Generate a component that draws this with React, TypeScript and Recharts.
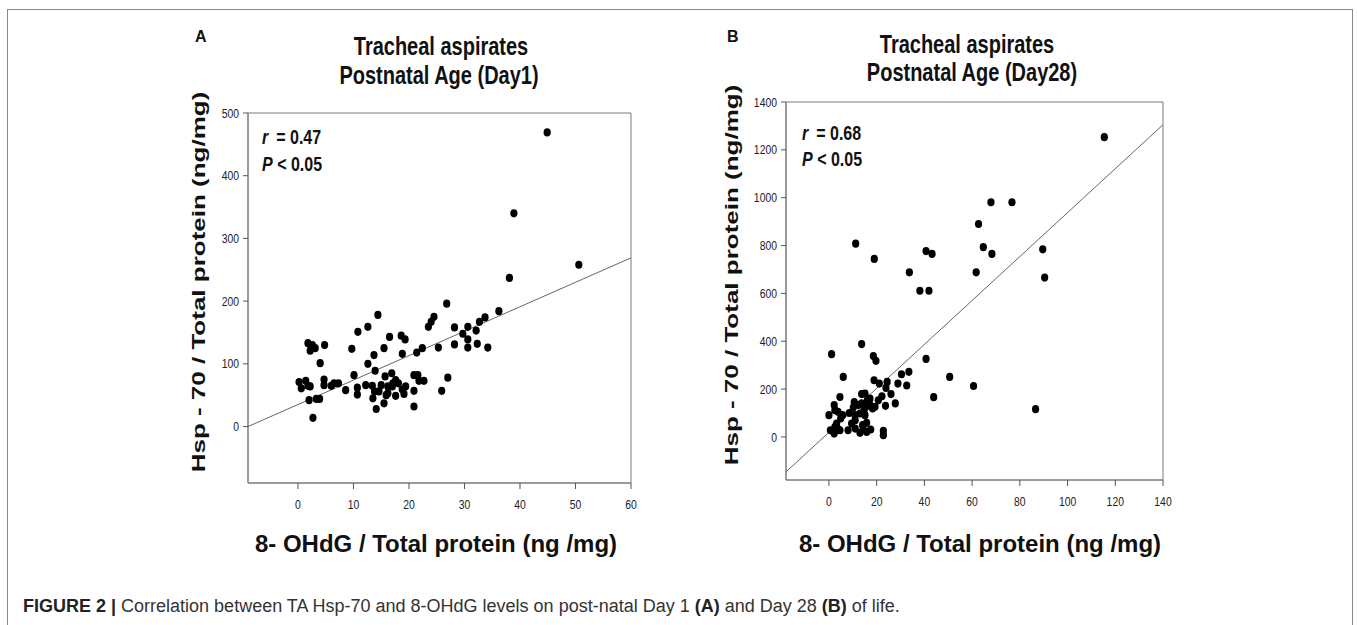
import React from 'react'
import {
  ScatterChart,
  Scatter,
  XAxis,
  YAxis,
  ReferenceArea,
  ReferenceLine
} from 'recharts'

// Day 1 : 8-OHdG (x) vs Hsp-70 (y)
const day1Ohdg = [
  44.9, 38.9, 50.6, 38.1, 26.8, 36.2, 33.7, 32.7, 32.1, 30.6, 29.7, 30.6, 30.6, 32.3, 34.2,
  28.2, 28.2, 24.5, 24.0, 23.5, 25.3, 22.4, 21.4, 27.0, 25.9, 22.7, 21.6, 20.9, 20.9, 20.9,
  14.4, 12.6, 10.8, 16.5, 18.6, 19.3, 18.8, 15.5, 13.7, 9.7, 12.6, 13.9, 10.1, 16.9, 15.7,
  8.6, 10.7, 10.7, 12.2, 13.4, 13.8, 13.5, 14.1, 15.5, 15.9, 16.2, 17.1, 17.6, 18.1, 18.8,
  19.1, 19.4, 15.0, 14.6, 16.2, 7.3, 6.0, 6.5, 4.8, 4.0, 3.1, 2.2, 1.8, 4.7, 4.7,
  3.9, 3.3, 2.0, 2.7, 0.2, 0.6, 1.4, 1.8, 2.2, 2.6, 21.8, 17.0, 17.6
]
const day1Hsp = [
  469, 340, 258, 237, 196, 184, 174, 167, 153, 159, 148, 139, 126, 132, 126,
  158, 131, 175, 167, 159, 126, 125, 118, 78, 57, 73, 82, 82, 57, 32,
  178, 159, 151, 143, 145, 139, 116, 125, 114, 124, 100, 89, 82, 85, 80,
  58, 62, 51, 66, 65, 56, 45, 28, 37, 50, 64, 69, 49, 69, 59,
  52, 64, 66, 56, 53, 69, 65, 69, 130, 101, 125, 121, 133, 75, 66,
  44, 44, 42, 14, 71, 61, 73, 65, 64, 130, 73, 64, 74
]

// Day 28 : 8-OHdG (x) vs Hsp-70 (y)
const day28Ohdg = [
  115.4, 67.9, 76.7, 62.7, 64.7, 68.3, 61.7, 89.6, 90.4, 86.6, 60.6, 50.6, 43.9, 40.7, 40.7,
  43.2, 41.9, 38.1, 33.7, 19.0, 11.2, 13.7, 18.6, 19.7, 18.9, 1.1, 6.0, 4.6, 33.5, 30.4,
  28.9, 32.6, 24.4, 23.9, 26.0, 27.8, 23.7, 22.2, 21.1, 22.8, 22.8, 2.2, 0.0, 3.8, 5.7,
  8.5, 10.2, 10.9, 11.0, 10.6, 12.3, 13.7, 13.7, 15.1, 16.1, 17.2, 18.3, 19.3, 20.7, 17.2,
  0.6, 2.1, 3.6, 2.5, 4.6, 3.2, 8.0, 11.0, 13.0, 14.1, 15.8, 15.8, 17.5, 14.4, 4.9,
  13.0, 15.1, 9.5, 2.5, 15.5, 14.7, 2.2
]
const day28Hsp = [
  1253, 981, 981, 890, 793, 765, 688, 784, 666, 116, 213, 251, 166, 326, 777,
  765, 611, 611, 688, 744, 808, 388, 338, 318, 237, 346, 251, 167, 272, 262,
  223, 215, 230, 205, 179, 140, 130, 170, 223, 25, 7, 133, 91, 105, 91,
  100, 123, 91, 70, 146, 133, 140, 179, 181, 153, 133, 119, 126, 153, 160,
  28, 21, 35, 42, 28, 56, 28, 35, 17, 49, 59, 21, 31, 31, 77,
  98, 91, 56, 112, 126, 112, 14
]

// regression lines (end points at the frame)
const day1Fit = [{ x: -9, y: 0 }, { x: 60, y: 269 }]
const day28Fit = [{ x: -18, y: -146 }, { x: 140, y: 1305 }]

const day1XDomain = [-9, 60]
const day1YDomain = [-90, 500]
const day1XTicks = [0, 10, 20, 30, 40, 50, 60]
const day1YTicks = [0, 100, 200, 300, 400, 500]

const day28XDomain = [-18, 140]
const day28YDomain = [-180, 1400]
const day28XTicks = [0, 20, 40, 60, 80, 100, 120, 140]
const day28YTicks = [0, 200, 400, 600, 800, 1000, 1200, 1400]

const day1Data = day1Ohdg.map((x, i) => ({ x, y: day1Hsp[i] }))
const day28Data = day28Ohdg.map((x, i) => ({ x, y: day28Hsp[i] }))

const FONT = '"Liberation Sans", Arial, sans-serif'
const FRAME = '#7a7a7a'

const XTick = ({ x, y, payload }: any) => (
  <text
    transform={`translate(${x},${y}) scale(0.8,1)`}
    textAnchor="middle"
    dy="0.71em"
    fontSize={13}
    fontFamily={FONT}
    fill="#222"
  >
    {payload.value}
  </text>
)

const YTick = ({ x, y, payload }: any) => (
  <text
    transform={`translate(${x},${y}) scale(0.8,1)`}
    textAnchor="end"
    dy="0.355em"
    fontSize={13}
    fontFamily={FONT}
    fill="#222"
  >
    {payload.value}
  </text>
)

const Dot = (props: any) => (
  <ellipse cx={props.cx} cy={props.cy} rx={3.6} ry={4.1} fill="#000" />
)

interface PanelProps {
  data: { x: number; y: number }[]
  fit: { x: number; y: number }[]
  xDomain: number[]
  yDomain: number[]
  xTicks: number[]
  yTicks: number[]
  left: number
  top: number
  plotWidth: number
  plotHeight: number
}

function Panel({ data, fit, xDomain, yDomain, xTicks, yTicks, left, top, plotWidth, plotHeight }: PanelProps) {
  const mt = 12
  const yw = 50
  const xh = 40
  return (
    <div style={{ position: 'absolute', left, top: top - mt }}>
      <ScatterChart
        width={yw + plotWidth + 10}
        height={mt + plotHeight + xh}
        margin={{ top: mt, right: 10, bottom: 0, left: 0 }}
      >
        <XAxis
          type="number"
          dataKey="x"
          domain={xDomain}
          ticks={xTicks}
          interval={0}
          allowDataOverflow
          height={xh}
          tickSize={6}
          tickMargin={11}
          tick={<XTick />}
          axisLine={{ stroke: FRAME }}
          tickLine={{ stroke: '#555' }}
        />
        <YAxis
          type="number"
          dataKey="y"
          domain={yDomain}
          ticks={yTicks}
          interval={0}
          allowDataOverflow
          width={yw}
          tickSize={5}
          tickMargin={4}
          tick={<YTick />}
          axisLine={{ stroke: FRAME }}
          tickLine={{ stroke: '#555' }}
        />
        <ReferenceArea
          x1={xDomain[0]}
          x2={xDomain[1]}
          y1={yDomain[0]}
          y2={yDomain[1]}
          fill="none"
          stroke={FRAME}
          strokeWidth={1}
          ifOverflow="visible"
        />
        <ReferenceLine
          segment={fit}
          stroke="#666"
          strokeWidth={1}
          ifOverflow="visible"
        />
        <Scatter data={data} fill="#000" shape={<Dot />} isAnimationActive={false} />
      </ScatterChart>
    </div>
  )
}

const narrow = (x: number, y: number) => `translate(${x},${y}) scale(0.8,1)`

export default function App() {
  return (
    <div
      style={{
        position: 'absolute',
        left: 0,
        top: 0,
        width: 1357,
        height: 625,
        background: '#fff',
        overflow: 'hidden',
        fontFamily: FONT
      }}
    >
      <div
        style={{
          position: 'absolute',
          left: 7,
          top: 9,
          width: 1344,
          height: 700,
          border: '1px solid #888'
        }}
      />

      <Panel
        data={day1Data}
        fit={day1Fit}
        xDomain={day1XDomain}
        yDomain={day1YDomain}
        xTicks={day1XTicks}
        yTicks={day1YTicks}
        left={198}
        top={113}
        plotWidth={383}
        plotHeight={370}
      />
      <Panel
        data={day28Data}
        fit={day28Fit}
        xDomain={day28XDomain}
        yDomain={day28YDomain}
        xTicks={day28XTicks}
        yTicks={day28YTicks}
        left={736}
        top={102}
        plotWidth={377}
        plotHeight={378}
      />

      <svg
        width={1357}
        height={625}
        style={{ position: 'absolute', left: 0, top: 0, pointerEvents: 'none' }}
        fontFamily={FONT}
      >
        {/* panel letters */}
        <text x={195} y={42} fontSize={16} fontWeight="bold" fill="#111">A</text>
        <text x={727} y={42} fontSize={16} fontWeight="bold" fill="#111">B</text>

        {/* titles */}
        <g fontSize={25} fontWeight="bold" fill="#111" textAnchor="middle">
          <text transform={narrow(441, 55)}>Tracheal aspirates</text>
          <text transform={narrow(439, 84)}>Postnatal Age (Day1)</text>
          <text transform={narrow(967, 53)}>Tracheal aspirates</text>
          <text transform={narrow(972, 81)}>Postnatal Age (Day28)</text>
        </g>

        {/* statistics */}
        <g fontSize={20} fontWeight="bold" fill="#111">
          <text transform={narrow(262, 144)}>
            <tspan fontStyle="italic">r</tspan>
            <tspan dx={10}>= 0.47</tspan>
          </text>
          <text transform={narrow(262, 171)}>
            <tspan fontStyle="italic">P</tspan>
            <tspan> &lt; 0.05</tspan>
          </text>
          <text transform={narrow(802, 140)}>
            <tspan fontStyle="italic">r</tspan>
            <tspan dx={10}>= 0.68</tspan>
          </text>
          <text transform={narrow(802, 166)}>
            <tspan fontStyle="italic">P</tspan>
            <tspan> &lt; 0.05</tspan>
          </text>
        </g>

        {/* y axis labels */}
        <g fontSize={26} fontWeight="bold" fill="#111" textAnchor="middle">
          <text dy="0.35em" transform="translate(199,282) rotate(-90) scale(1,0.68)">
            Hsp - 70 / Total protein (ng/mg)
          </text>
          <text dy="0.35em" transform="translate(732,275) rotate(-90) scale(1,0.68)">
            Hsp - 70 / Total protein (ng/mg)
          </text>
        </g>

        {/* x axis labels */}
        <g fontSize={24} fontWeight="bold" fill="#111" textAnchor="middle">
          <text x={436} y={552}>8- OHdG / Total protein (ng /mg)</text>
          <text x={980} y={552}>8- OHdG / Total protein (ng /mg)</text>
        </g>

        {/* caption */}
        <text x={23} y={612} fontSize={18} fill="#333">
          <tspan fontWeight="bold" fill="#222">FIGURE 2 | </tspan>
          <tspan>Correlation between TA Hsp-70 and 8-OHdG levels on post-natal Day 1 </tspan>
          <tspan fontWeight="bold" fill="#222">(A)</tspan>
          <tspan> and Day 28 </tspan>
          <tspan fontWeight="bold" fill="#222">(B)</tspan>
          <tspan> of life.</tspan>
        </text>
      </svg>
    </div>
  )
}
